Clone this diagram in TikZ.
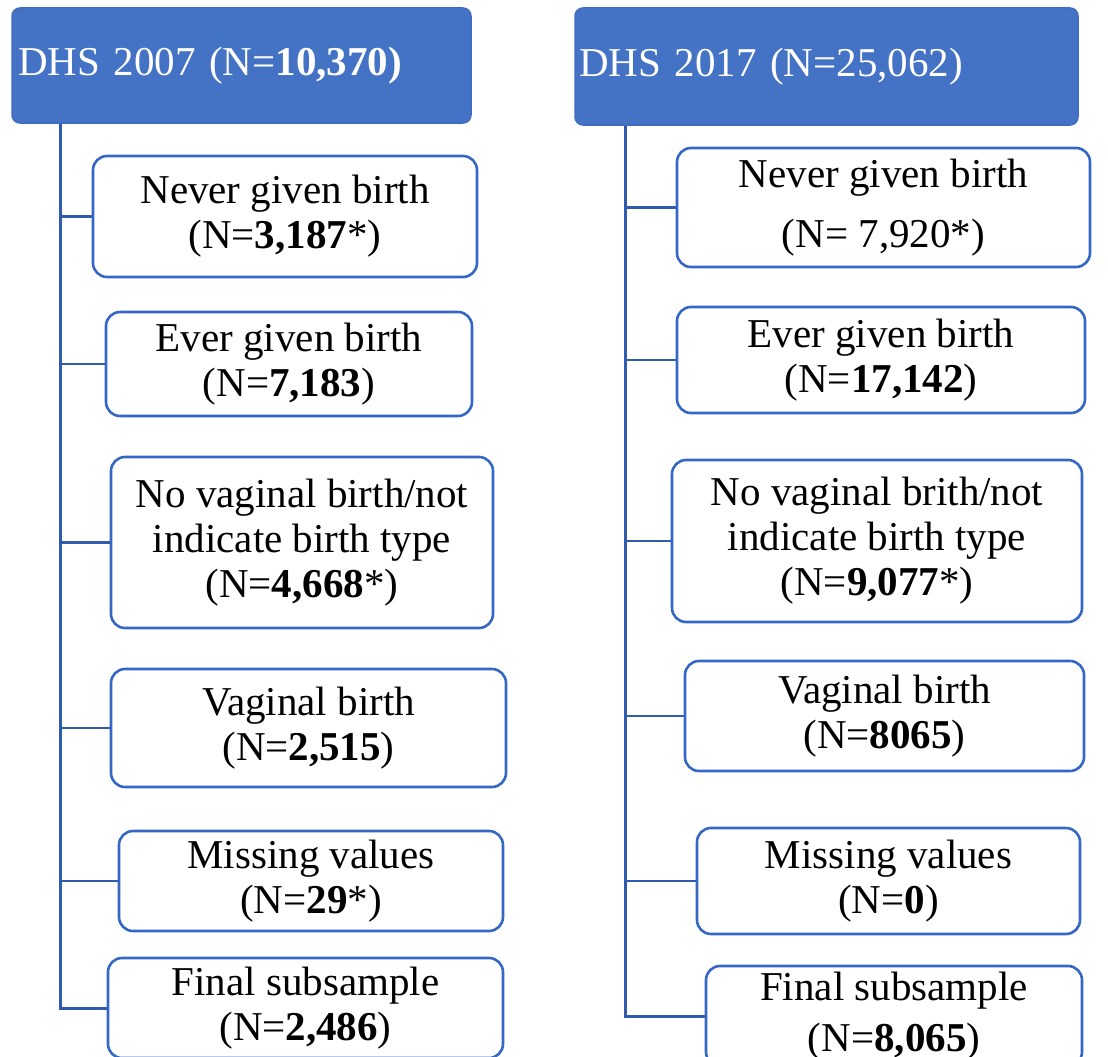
\documentclass[tikz,border=0pt]{standalone}
\usepackage{fontspec}
\setmainfont{Liberation Serif}
\usetikzlibrary{calc}
\definecolor{hdrblue}{HTML}{4472C4}
\definecolor{hdredge}{HTML}{3F6CC0}
\definecolor{boxedge}{HTML}{3468C4}
\definecolor{linkblue}{HTML}{2F5CAE}
\begin{document}
\begin{tikzpicture}[x=1pt,y=-1pt,
  hdr/.style={draw=hdredge, fill=hdrblue, line width=1.5pt, rounded corners=8pt,
    inner ysep=0pt, align=left, text=white,
    font=\fontsize{41}{46}\selectfont},
  fbox/.style={draw=boxedge, fill=white, line width=2.6pt, rounded corners=14pt,
    inner sep=0pt, align=center, text=black,
    font=\fontsize{41}{45}\selectfont},
  link/.style={draw=linkblue, line width=2.4pt},
  trunk/.style={draw=linkblue, line width=3pt}]
\fill[white] (0,0) rectangle (1108,1057);
\useasboundingbox (0,0) rectangle (1108,1057);

% headers
\node[hdr, text width=447pt, inner xsep=6pt, minimum height=115pt] (H1) at (241.5,65.5)
  {DHS 2007 (N=\textbf{10,370)}};
\node[hdr, text width=495pt, inner xsep=4pt, minimum height=117pt] (H2) at (826.5,66.5)
  {DHS 2017 (N=25,062)};

% left column
\node[fbox, minimum width=384pt, minimum height=121pt] (L1) at (285,216.5)
  {Never given birth\\(N=\textbf{3,187}*)};
\node[fbox, minimum width=366pt, minimum height=104pt] (L2) at (289,364)
  {Ever given birth\\(N=\textbf{7,183})};
\node[fbox, minimum width=382pt, minimum height=171pt] (L3) at (302,542.5)
  {No vaginal birth/not\\indicate birth type\\(N=\textbf{4,668}*)};
\node[fbox, minimum width=395pt, minimum height=118pt] (L4) at (308.5,728)
  {Vaginal birth\\(N=\textbf{2,515})};
\node[fbox, minimum width=384pt, minimum height=100pt] (L5) at (311,881)
  {Missing values\\(N=\textbf{29}*)};
\node[fbox, minimum width=395pt, minimum height=100pt] (L6) at (305.5,1008)
  {Final subsample\\(N=\textbf{2,486})};

% right column
\node[fbox, minimum width=413pt, minimum height=119pt] (R1) at (883.5,207.5)
  {Never given birth\\[15pt](N= 7,920*)};
\node[fbox, minimum width=408pt, minimum height=106pt] (R2) at (881,360)
  {Ever given birth\\(N=\textbf{17,142})};
\node[fbox, minimum width=410pt, minimum height=162pt] (R3) at (877,541)
  {No vaginal brith/not\\indicate birth type\\(N=\textbf{9,077}*)};
\node[fbox, minimum width=399pt, minimum height=110pt] (R4) at (884.5,716)
  {Vaginal birth\\(N=\textbf{8065})};
\node[fbox, minimum width=383pt, minimum height=106pt] (R5) at (888.5,881)
  {Missing values\\(N=\textbf{0})};
\node[fbox, minimum width=376pt, minimum height=100pt] (R6) at (894,1016)
  {Final subsample\\[6pt](N=\textbf{8,065})};

% trunks
\coordinate (lx) at (60,0);
\coordinate (rx) at (625,0);
\draw[trunk] (lx |- H1.south) -- (lx |- L6.west) -- (L6.west);
\draw[trunk] (rx |- H2.south) -- (rx |- R6.west) -- (R6.west);

% branches
\foreach \n in {L1,L2,L3,L4,L5}
  \draw[link] (lx |- \n.west) -- (\n.west);
\foreach \n in {R1,R2,R3,R4,R5}
  \draw[link] (rx |- \n.west) -- (\n.west);
\end{tikzpicture}
\end{document}
